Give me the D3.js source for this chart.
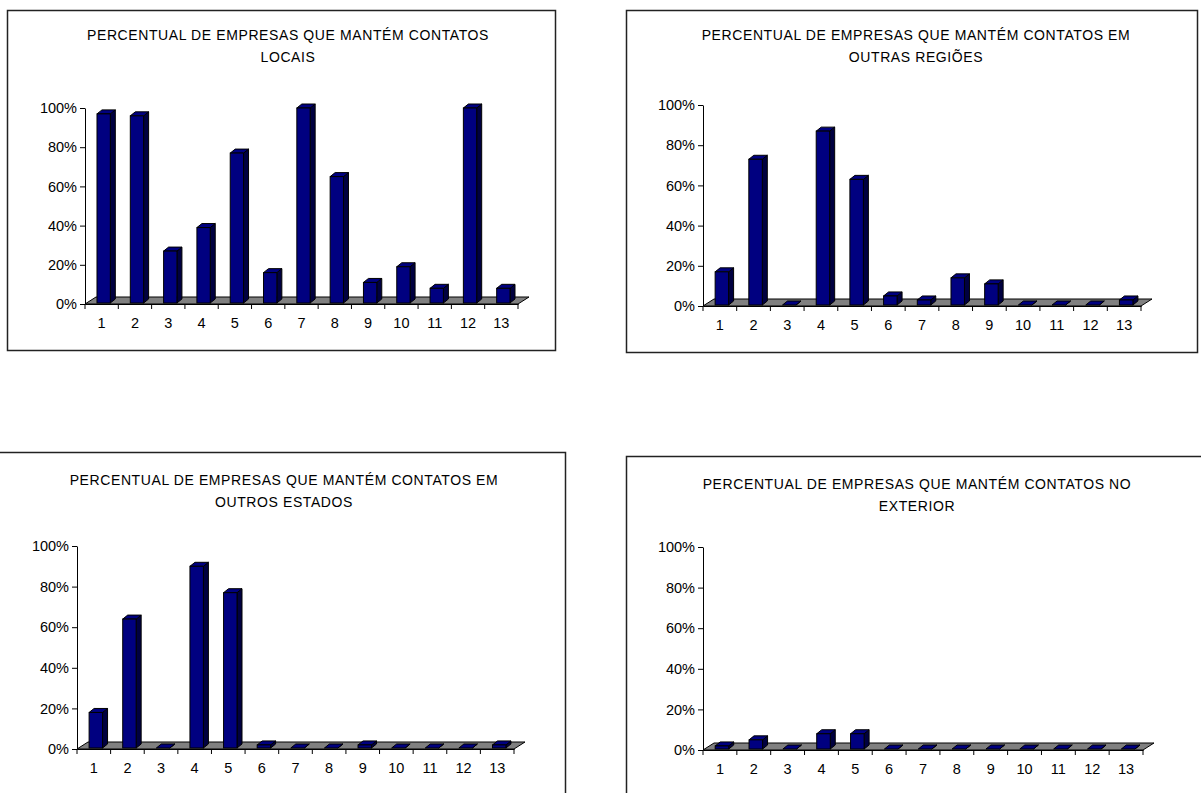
<!DOCTYPE html>
<html>
<head>
<meta charset="utf-8">
<script src="https://cdn.jsdelivr.net/npm/d3@7"></script>
<style>
  html, body { margin: 0; padding: 0; background: #fff; }
  svg { display: block; }
  text { font-family: "Liberation Sans", Arial, sans-serif; fill: #000; }
</style>
</head>
<body>
<svg id="chart" width="1201" height="793"></svg>
<script>
// Companies (1..13) and share that keeps each kind of contact, in percent
const categories = ["1", "2", "3", "4", "5", "6", "7", "8", "9", "10", "11", "12", "13"];
const locais         = [97, 96, 27, 39, 77, 16, 100, 65, 11, 19, 8, 100, 8];
const outrasRegioes  = [17, 73, 0, 87, 63, 5, 3, 14, 11, 0, 0, 0, 3];
const outrosEstados  = [18, 64, 0, 90, 77, 2, 0, 0, 2, 0, 0, 0, 2];
const exterior       = [2, 5, 0, 8, 8, 0, 0, 0, 0, 0, 0, 0, 0];
const yTicks = [0, 20, 40, 60, 80, 100];

const titleLocais   = ["PERCENTUAL DE EMPRESAS QUE MANTÉM CONTATOS", "LOCAIS"];
const titleRegioes  = ["PERCENTUAL DE EMPRESAS QUE MANTÉM CONTATOS EM", "OUTRAS REGIÕES"];
const titleEstados  = ["PERCENTUAL DE EMPRESAS QUE MANTÉM CONTATOS EM", "OUTROS ESTADOS"];
const titleExterior = ["PERCENTUAL DE EMPRESAS QUE MANTÉM CONTATOS NO", "EXTERIOR"];

// Panel placement: frame box, title centre and plot area (axis origin, axis end, 100% level)
const panels = [
  { title: titleLocais,   values: locais,        box: [7, 10, 555, 350],     tx: 288, ty: 40,  x0: 85,  x1: 518,  y0: 304, y1: 108 },
  { title: titleRegioes,  values: outrasRegioes, box: [626, 10, 1197, 352],  tx: 916, ty: 40,  x0: 703, x1: 1141, y0: 306, y1: 105 },
  { title: titleEstados,  values: outrosEstados, box: [-5, 452, 565, 820],   tx: 284, ty: 485, x0: 77,  x1: 514,  y0: 749, y1: 546 },
  { title: titleExterior, values: exterior,      box: [626, 456, 1215, 820], tx: 917, ty: 489, x0: 703, x1: 1143, y0: 750, y1: 547 }
];

const svg = d3.select("#chart");
const floorDx = 11, floorDy = 7;   // depth of the gray floor
const barDx = 5, barDy = 4;        // depth of each column
const tickFont = 14.5;

panels.forEach(p => {
  const g = svg.append("g");
  const [bx0, by0, bx1, by1] = p.box;

  g.append("rect")
    .attr("x", bx0 + 0.5).attr("y", by0 + 0.5)
    .attr("width", bx1 - bx0).attr("height", by1 - by0)
    .attr("fill", "#fff").attr("stroke", "#222").attr("stroke-width", 1.5);

  p.title.forEach((line, i) => {
    g.append("text")
      .attr("x", p.tx).attr("y", p.ty + i * 22)
      .attr("text-anchor", "middle")
      .attr("font-size", 14)
      .attr("letter-spacing", 0.6)
      .text(line);
  });

  const x = d3.scaleBand().domain(categories).range([p.x0, p.x1]).padding(0);
  const y = d3.scaleLinear().domain([0, 100]).range([p.y0, p.y1]);

  // floor
  const floorPts = [[p.x0, p.y0], [p.x1, p.y0], [p.x1 + floorDx, p.y0 - floorDy], [p.x0 + floorDx, p.y0 - floorDy]];
  g.append("polygon")
    .attr("points", floorPts.map(d => d.join(",")).join(" "))
    .attr("fill", "#808080").attr("stroke", "#000").attr("stroke-width", 1);

  // y axis
  const yAxis = g.append("g")
    .attr("transform", `translate(${p.x0},0)`)
    .call(d3.axisLeft(y).tickValues(yTicks).tickFormat(d => d + "%").tickSize(5).tickSizeOuter(0).tickPadding(3));
  yAxis.select(".domain").attr("stroke", "#000");
  yAxis.selectAll("text").attr("font-size", tickFont).attr("font-family", "Liberation Sans, Arial, sans-serif").attr("fill", "#000");

  // x axis: labels centred in each band, ticks on band boundaries
  const xAxis = g.append("g")
    .attr("transform", `translate(0,${p.y0})`)
    .call(d3.axisBottom(x).tickSize(0).tickPadding(14));
  xAxis.select(".domain").attr("stroke", "#000");
  xAxis.selectAll("text").attr("font-size", tickFont).attr("font-family", "Liberation Sans, Arial, sans-serif").attr("fill", "#000");
  const bounds = categories.map(c => x(c)).concat([p.x1]);
  g.selectAll(".btick").data(bounds).join("line")
    .attr("x1", d => d).attr("x2", d => d)
    .attr("y1", p.y0).attr("y2", p.y0 + 5)
    .attr("stroke", "#000");

  // columns
  const bw = x.bandwidth();
  const colW = bw * 0.4;
  const bars = g.selectAll(".bar").data(p.values.map((v, i) => ({ c: categories[i], v }))).join("g");
  bars.each(function (d) {
    const b = d3.select(this);
    const left = x(d.c) + bw * 0.36;
    const right = left + colW;
    const bottom = p.y0 - 1;
    const top = Math.min(y(d.v), bottom);
    const pts = a => a.map(q => q.join(",")).join(" ");
    b.append("polygon")
      .attr("points", pts([[right, bottom], [right + barDx, bottom - barDy], [right + barDx, top - barDy], [right, top]]))
      .attr("fill", "#000040").attr("stroke", "#000").attr("stroke-width", 1);
    b.append("polygon")
      .attr("points", pts([[left, top], [left + barDx, top - barDy], [right + barDx, top - barDy], [right, top]]))
      .attr("fill", "#000080").attr("stroke", "#000").attr("stroke-width", 1);
    if (top < bottom) {
      b.append("rect")
        .attr("x", left).attr("y", top)
        .attr("width", colW).attr("height", bottom - top)
        .attr("fill", "#000080").attr("stroke", "#000").attr("stroke-width", 1);
    }
  });
});
</script>
</body>
</html>
